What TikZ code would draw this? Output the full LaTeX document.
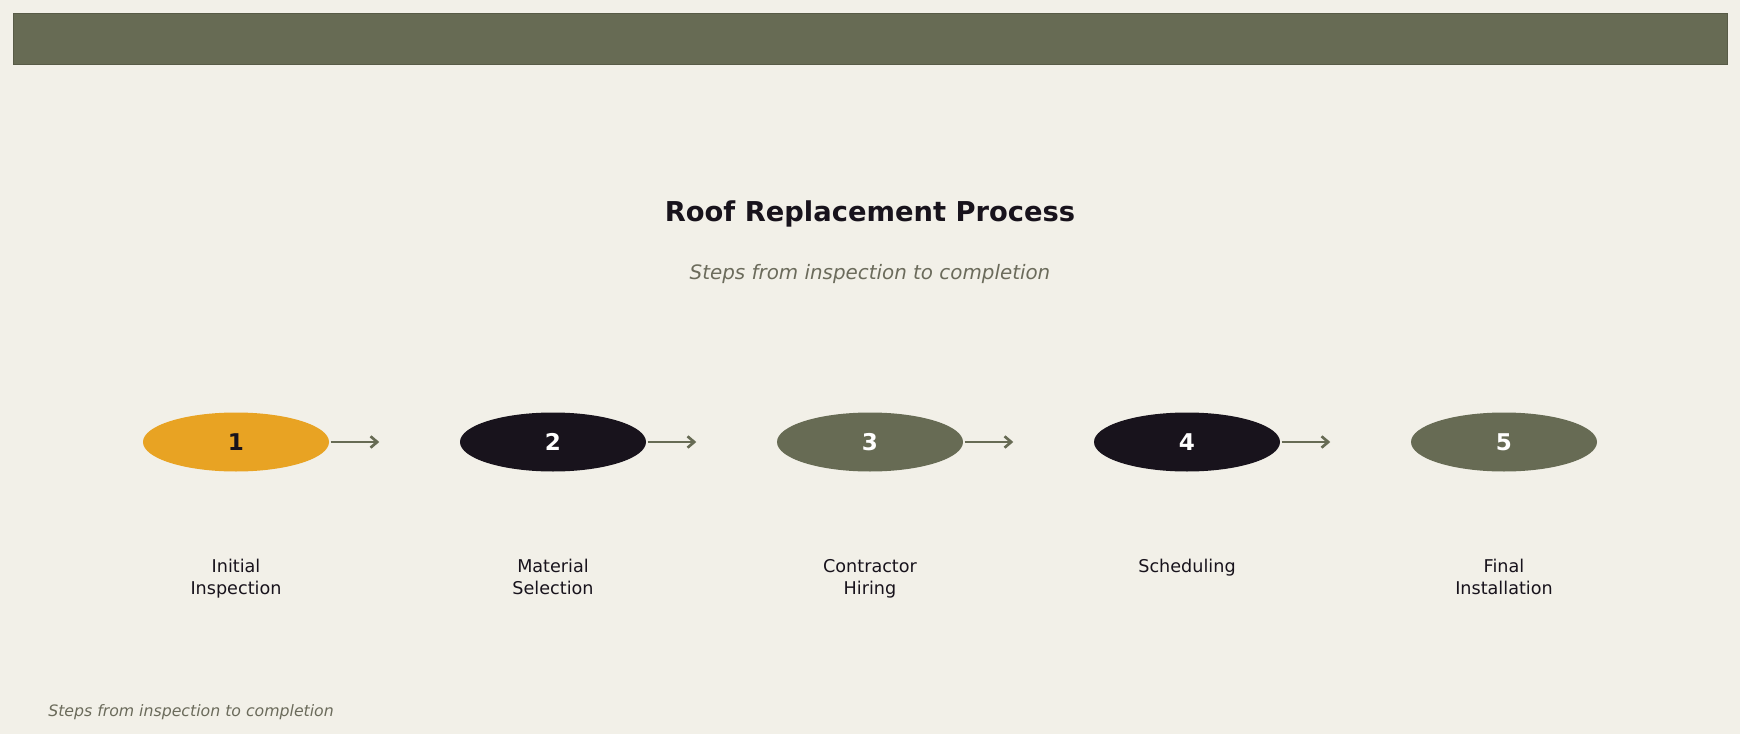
\documentclass[tikz,border=0pt]{standalone}
\usepackage{fontspec}
\setmainfont{DejaVu Sans}
\usetikzlibrary{shapes.geometric,arrows.meta,positioning}

\definecolor{paper}{HTML}{F2F0E8}
\definecolor{olive}{HTML}{676B54}
\definecolor{amber}{HTML}{E8A323}
\definecolor{ink}{HTML}{18131C}
\definecolor{muted}{HTML}{6B6B5B}

\tikzset{
  stepnode/.style={ellipse, minimum width=139.5pt, minimum height=44.25pt, inner sep=0pt,
    font=\fontsize{17.3}{20}\selectfont\bfseries},
  steplabel/.style={align=center, inner sep=0pt, text=ink, font=\fontsize{13.2}{16.7}\selectfont},
  flow/.style={-{Straight Barb[length=5pt,width=8.5pt]}, line width=2pt, olive, shorten <=1pt}
}

\begin{document}
\begin{tikzpicture}[x=0.75pt,y=-0.75pt]

% --- Background and header bar ---
\fill[paper] (0,0) rectangle (1740,734);
\useasboundingbox (0,0) rectangle (1740,734);
\fill[olive, draw=olive!85!black, line width=0.6pt] (13,13) rectangle (1727,64);

% --- Title ---
\node[anchor=base, text=ink, font=\fontsize{20.5}{24}\selectfont\bfseries] (title) at (870,221.7) {Roof Replacement Process};
\node[anchor=base, text=muted, font=\fontsize{14.9}{18}\selectfont\itshape] (subtitle) at (870,279.3) {Steps from inspection to completion};

% --- Steps ---
\foreach \i/\x/\col/\txt/\lab in {1/236/amber/ink/{Initial\\Inspection},
                                  2/553/ink/white/{Material\\Selection},
                                  3/870/olive/white/{Contractor\\Hiring},
                                  4/1187/ink/white/{Scheduling},
                                  5/1504/olive/white/{Final\\Installation}} {
    \node[stepnode, fill=\col, text=\txt] (s\i) at (\x,442) {\i};
    \node[steplabel, anchor=north] (l\i) at (\x,559) {\lab};
}

% Arrows
\foreach \i in {1,...,4} {
    \coordinate[right=37.5pt of s\i.east] (e\i);
    \draw[flow] (s\i.east) -- (e\i);
}

% --- Footer ---
\node[anchor=base west, inner sep=0pt, text=muted, font=\fontsize{11.8}{14}\selectfont\itshape] (foot) at (48,716) {Steps from inspection to completion};

\end{tikzpicture}
\end{document}
